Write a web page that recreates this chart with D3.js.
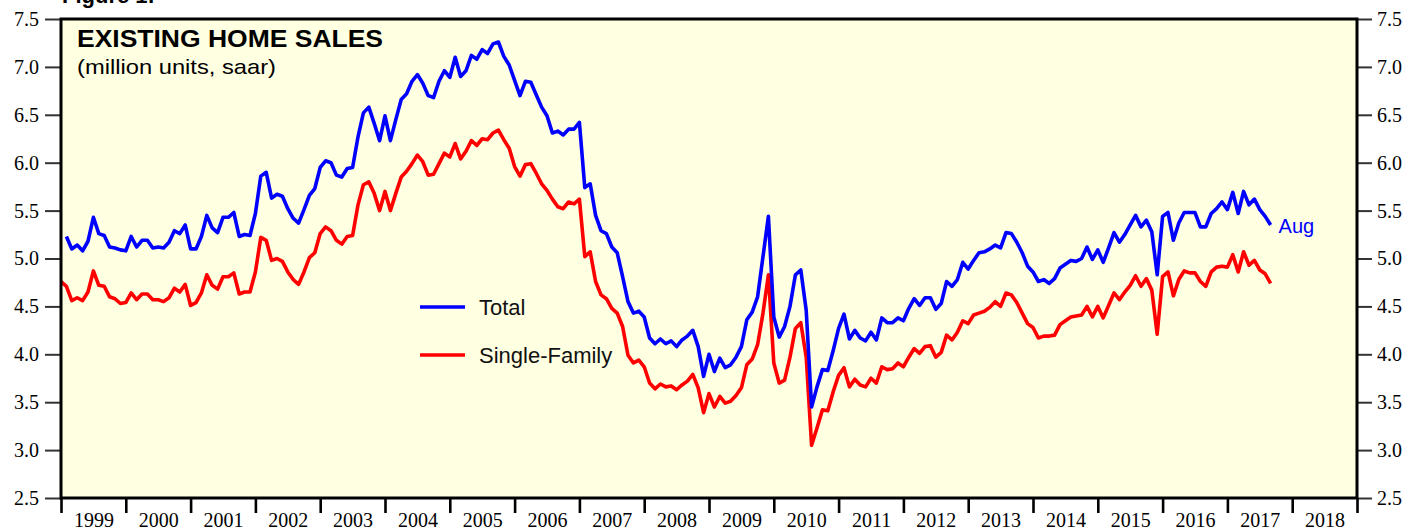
<!DOCTYPE html>
<html><head><meta charset="utf-8">
<script src="https://cdn.jsdelivr.net/npm/d3@7"></script>
<style>body{margin:0;background:#fff} svg{display:block}</style>
</head><body>
<svg id="chart" width="1411" height="529"></svg>
<script>
// ---- data (million units, saar) ----
// Total existing home sales, monthly from Jan 1999
const totalStart = {year: 1999, month: 0};
const total = [
  5.23,5.10,5.14,5.08,5.18,5.43,5.26,5.24,5.12,5.11,5.09,5.08,
  5.23,5.12,5.19,5.19,5.11,5.12,5.11,5.17,5.29,5.26,5.35,5.10,
  5.10,5.23,5.45,5.32,5.27,5.43,5.43,5.48,5.23,5.25,5.24,5.47,
  5.86,5.90,5.63,5.67,5.65,5.52,5.42,5.37,5.51,5.66,5.73,5.95,
  6.02,6.00,5.87,5.85,5.94,5.95,6.27,6.52,6.58,6.41,6.23,6.49,
  6.23,6.45,6.66,6.72,6.85,6.92,6.83,6.70,6.68,6.85,6.96,6.89,
  7.10,6.90,6.96,7.12,7.08,7.18,7.14,7.24,7.26,7.11,7.02,6.86,
  6.70,6.85,6.84,6.71,6.58,6.49,6.31,6.33,6.29,6.35,6.35,6.42,
  5.74,5.78,5.45,5.29,5.26,5.12,5.06,4.81,4.55,4.43,4.45,4.39,
  4.17,4.11,4.16,4.11,4.14,4.08,4.15,4.19,4.25,4.08,3.77,4.00,
  3.82,3.96,3.86,3.89,3.97,4.08,4.36,4.44,4.60,5.02,5.44,4.39,
  4.18,4.29,4.50,4.83,4.88,4.46,3.45,3.66,3.84,3.83,4.04,4.27,
  4.42,4.16,4.25,4.17,4.14,4.23,4.15,4.38,4.33,4.33,4.38,4.35,
  4.48,4.58,4.51,4.59,4.59,4.47,4.53,4.76,4.71,4.78,4.96,4.89,
  4.98,5.06,5.07,5.10,5.14,5.11,5.27,5.26,5.17,5.06,4.92,4.86,
  4.76,4.78,4.74,4.79,4.90,4.94,4.98,4.97,5.00,5.12,4.99,5.09,
  4.96,5.11,5.27,5.17,5.25,5.35,5.45,5.33,5.40,5.28,4.83,5.44,
  5.48,5.19,5.37,5.48,5.48,5.48,5.33,5.33,5.47,5.52,5.59,5.51,
  5.69,5.47,5.70,5.56,5.62,5.51,5.44,5.35
];
// Single-family existing home sales, monthly from Dec 1998
const singleStart = {year: 1998, month: 11};
const singleFamily = [
  4.76,
  4.71,4.56,4.59,4.56,4.65,4.87,4.72,4.71,4.60,4.58,4.53,4.54,
  4.64,4.57,4.63,4.63,4.57,4.57,4.55,4.59,4.69,4.65,4.73,4.51,
  4.54,4.64,4.83,4.72,4.68,4.81,4.81,4.85,4.63,4.65,4.65,4.86,
  5.22,5.19,4.98,5.00,4.97,4.86,4.78,4.73,4.86,5.01,5.06,5.26,
  5.33,5.29,5.19,5.15,5.23,5.24,5.56,5.77,5.80,5.68,5.50,5.70,
  5.50,5.68,5.85,5.91,5.99,6.08,6.01,5.87,5.88,5.99,6.10,6.06,
  6.20,6.04,6.12,6.23,6.18,6.25,6.24,6.31,6.34,6.24,6.15,5.96,
  5.86,5.98,5.99,5.89,5.78,5.71,5.62,5.54,5.52,5.59,5.57,5.62,
  5.02,5.07,4.76,4.62,4.58,4.48,4.43,4.29,3.99,3.91,3.94,3.87,
  3.70,3.64,3.69,3.66,3.67,3.63,3.68,3.72,3.79,3.65,3.39,3.59,
  3.45,3.56,3.49,3.51,3.57,3.65,3.89,3.95,4.10,4.43,4.83,3.91,
  3.70,3.73,3.97,4.27,4.33,3.97,3.05,3.23,3.42,3.41,3.61,3.78,
  3.86,3.66,3.74,3.68,3.66,3.75,3.70,3.87,3.84,3.85,3.91,3.87,
  3.97,4.06,4.01,4.08,4.09,3.97,4.02,4.20,4.15,4.23,4.35,4.32,
  4.41,4.43,4.45,4.49,4.55,4.50,4.64,4.62,4.54,4.43,4.32,4.28,
  4.17,4.19,4.19,4.20,4.31,4.35,4.39,4.40,4.41,4.50,4.39,4.50,
  4.38,4.51,4.64,4.57,4.65,4.72,4.82,4.71,4.79,4.67,4.21,4.81,
  4.86,4.61,4.78,4.87,4.85,4.85,4.76,4.71,4.86,4.91,4.92,4.91,
  5.04,4.86,5.07,4.93,4.98,4.88,4.84,4.74
];
const yearLabels = d3.range(1999, 2019);       // category bands on x axis
const yTickValues = [2.5,3.0,3.5,4.0,4.5,5.0,5.5,6.0,6.5,7.0,7.5];
const seriesNames = ["Total", "Single-Family"];
const lastLabel = "Aug";
const titleText = "EXISTING HOME SALES";
const subtitleText = "(million units, saar)";
const figureText = "Figure 1:";

// ---- layout ----
const W = 1411, H = 529;
const L = 61, R = 1357, T = 19, B = 498;
const svg = d3.select("#chart");

const x = d3.scaleLinear().domain([1999, 2019]).range([L, R]);
const y = d3.scaleLinear().domain([2.5, 7.5]).range([B, T]);

// points plotted at month end
function toPoints(arr, start) {
  return arr.map((v, i) => ({t: start.year + (start.month + i + 1) / 12, v}));
}
const totalPts = toPoints(total, totalStart);
const singlePts = toPoints(singleFamily, singleStart);

// plot background
svg.append("rect").attr("x", L).attr("y", T).attr("width", R - L).attr("height", B - T)
  .attr("fill", "#ffffe2");

// figure label (cut at top)
svg.append("text").attr("x", 62).attr("y", 3).text(figureText)
  .attr("font-family", "Liberation Sans, Arial, sans-serif").attr("font-weight", "bold")
  .attr("font-size", 22).attr("fill", "#000");

// clip
svg.append("clipPath").attr("id", "clip").append("rect")
  .attr("x", L).attr("y", T).attr("width", R - L).attr("height", B - T);

const line = d3.line().x(d => x(d.t)).y(d => y(d.v)).curve(d3.curveLinear);
const g = svg.append("g").attr("clip-path", "url(#clip)");
g.append("path").datum(singlePts).attr("d", line).attr("fill", "none")
  .attr("stroke", "#ff0000").attr("stroke-width", 3.6).attr("stroke-linejoin", "round");
g.append("path").datum(totalPts).attr("d", line).attr("fill", "none")
  .attr("stroke", "#0000ff").attr("stroke-width", 3.6).attr("stroke-linejoin", "round");

// axes
const serif = "Liberation Serif, Times New Roman, serif";
const yl = svg.append("g").attr("transform", `translate(${L},0)`)
  .call(d3.axisLeft(y).tickValues(yTickValues).tickFormat(d3.format(".1f")).tickSize(16).tickPadding(6));
const yr = svg.append("g").attr("transform", `translate(${R},0)`)
  .call(d3.axisRight(y).tickValues(yTickValues).tickFormat(d3.format(".1f")).tickSize(15).tickPadding(5));
[yl, yr].forEach(a => {
  a.select(".domain").remove();
  a.selectAll(".tick line").attr("stroke", "#333").attr("stroke-width", 2);
  a.selectAll(".tick text").attr("font-family", serif).attr("font-size", 20).attr("fill", "#000");
});

const xt = svg.append("g").attr("transform", `translate(0,${B})`)
  .call(d3.axisBottom(x).tickValues(d3.range(1999, 2020)).tickFormat("").tickSize(15));
xt.select(".domain").remove();
xt.selectAll(".tick line").attr("stroke", "#000").attr("stroke-width", 2.6);

const xl = svg.append("g").attr("transform", `translate(0,${B})`)
  .call(d3.axisBottom(x).tickValues(yearLabels.map(d => d + 0.5)).tickFormat(d => String(Math.floor(d))).tickSize(0).tickPadding(0));
xl.select(".domain").remove();
xl.selectAll(".tick text").attr("font-family", serif).attr("font-size", 20).attr("fill", "#000")
  .attr("dy", null).attr("y", 29);

// frame
svg.append("rect").attr("x", L).attr("y", T).attr("width", R - L).attr("height", B - T)
  .attr("fill", "none").attr("stroke", "#000").attr("stroke-width", 3);

// titles
const sans = "Liberation Sans, Arial, Helvetica, sans-serif";
svg.append("text").attr("x", 77).attr("y", 47).text(titleText)
  .attr("font-family", sans).attr("font-weight", "bold").attr("font-size", 24)
  .attr("textLength", 306).attr("lengthAdjust", "spacingAndGlyphs");
svg.append("text").attr("x", 77).attr("y", 74).text(subtitleText)
  .attr("font-family", sans).attr("font-size", 21)
  .attr("textLength", 199).attr("lengthAdjust", "spacingAndGlyphs");

// legend
const legend = svg.append("g");
const legColors = ["#0000ff", "#ff0000"];
seriesNames.forEach((name, i) => {
  const ly = 307 + i * 48;
  legend.append("line").attr("x1", 420).attr("x2", 465).attr("y1", ly).attr("y2", ly)
    .attr("stroke", legColors[i]).attr("stroke-width", 3.6);
  legend.append("text").attr("x", 479).attr("y", ly + 8).text(name)
    .attr("font-family", sans).attr("font-size", 22).attr("fill", "#111");
});

// last value label
const last = totalPts[totalPts.length - 1];
svg.append("text").attr("x", x(last.t) + 8).attr("y", y(last.v) + 8).text(lastLabel)
  .attr("font-family", sans).attr("font-size", 20).attr("fill", "#0000ff");
</script>
</body></html>
